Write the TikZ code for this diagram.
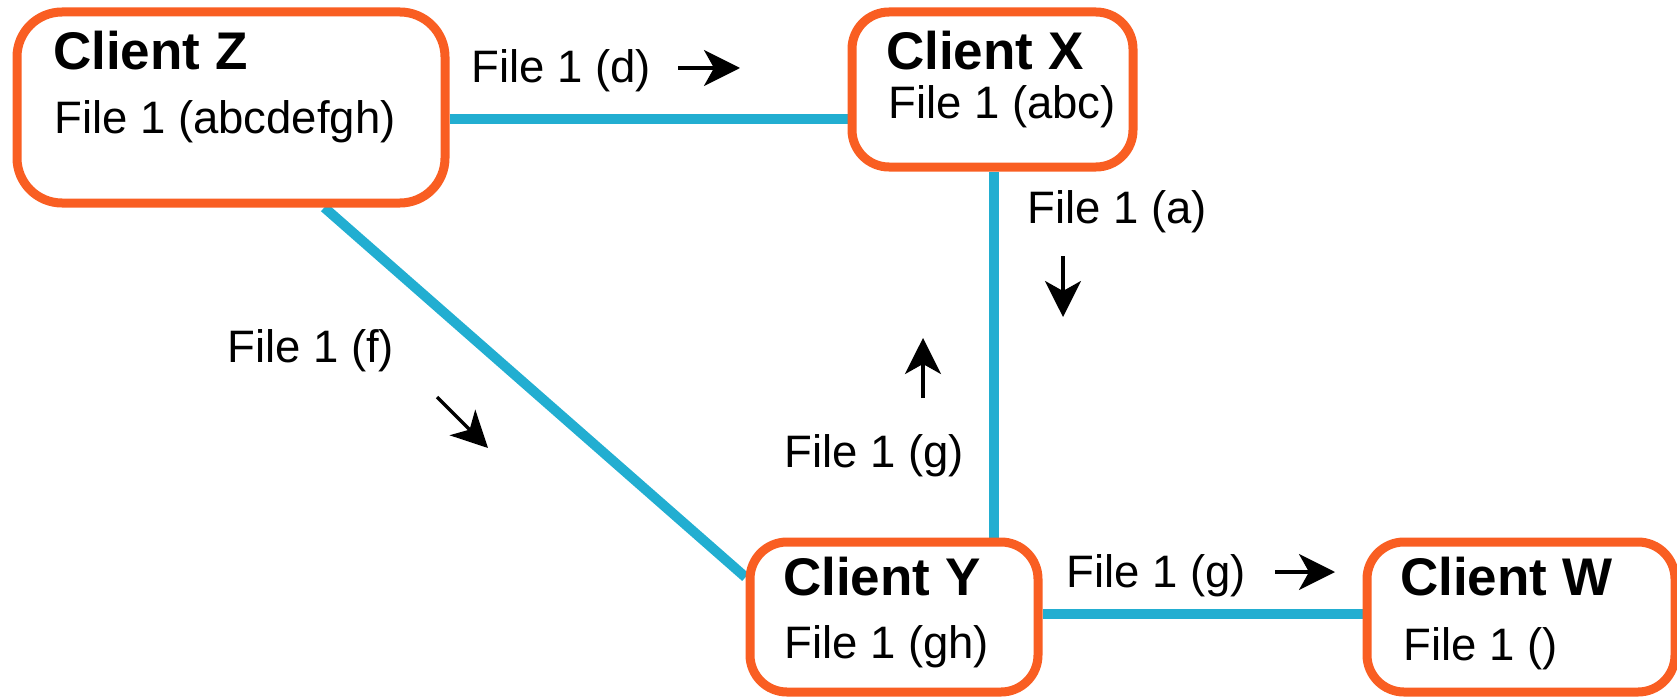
\documentclass[tikz,border=0pt]{standalone}
\usepackage{fontspec}
\setmainfont{Liberation Sans}
\usetikzlibrary{arrows.meta,backgrounds,calc}

\definecolor{boxorange}{RGB}{249,94,34}
\definecolor{linkblue}{RGB}{34,174,209}

\begin{document}
\begin{tikzpicture}[x = 1pt, y = -1pt,
    client/.style = {draw = boxorange, line width = 9pt, fill = white, rounded corners = 37pt, inner sep = 0pt},
    clientname/.style = {anchor = base west, inner sep = 0pt, font = \fontsize{53}{60}\selectfont\bfseries},
    filetext/.style = {anchor = base west, inner sep = 0pt, font = \fontsize{45.5}{54}\selectfont},
    link/.style = {draw = linkblue, line width = 10pt},
    dir/.style = {line width = 3.5pt, -{Stealth[length = 36pt, width = 36pt, inset = 10pt]}}]

    \useasboundingbox (0, 0) rectangle (1677, 698);

    % clients
    \node [client, rounded corners = 45pt, minimum width = 428pt, minimum height = 191pt] (cz) at (231, 107.5) {};
    \node [client, minimum width = 281pt, minimum height = 155pt] (cx) at (992.5, 89.5) {};
    \node [client, minimum width = 288pt, minimum height = 150pt] (cy) at (894, 617) {};
    \node [client, minimum width = 308pt, minimum height = 150pt] (cw) at (1521, 617) {};

    \node [clientname] (czname) at (53, 70) {Client Z};
    \node [filetext] (czfile) at (54, 133) {File 1 (abcdefgh)};
    \node [clientname] (cxname) at (886, 70) {Client X};
    \node [filetext] (cxfile) at (888, 118) {File 1 (abc)};
    \node [clientname] (cyname) at (783, 595) {Client Y};
    \node [filetext] (cyfile) at (784, 658) {File 1 (gh)};
    \node [clientname] (cwname) at (1400, 595) {Client W};
    \node [filetext] (cwfile) at (1403, 660) {File 1 ()};

    % links
    \begin{scope}[on background layer]
        \draw [link] ([yshift = -11.5pt]cz.east) -- ([yshift = -29.5pt]cx.west);
        \draw [link] ([xshift = 1.5pt]cx.south) -- ([xshift = 1.5pt]cx.south |- cy.north);
        \draw [link] (cz.-47) -- (cy.165);
        \draw [link] ([yshift = 3pt]cy.east) -- ([yshift = 3pt]cw.west);
    \end{scope}

    % transfers
    \node [filetext] (ld) at (471, 83) {File 1 (d)};
    \node [filetext] (la) at (1027, 223) {File 1 (a)};
    \node [filetext] (lf) at (227, 362) {File 1 (f)};
    \node [filetext] (lgy) at (784, 467) {File 1 (g)};
    \node [filetext] (lgw) at (1066, 587) {File 1 (g)};

    \draw [dir] ($(ld.base west) + (207, -15)$) -- ++(62, 0);
    \draw [dir] ($(la.base west) + (36, 33)$) -- ++(0, 61);
    \draw [dir] ($(lf.base west) + (210, 35)$) -- ++(51, 51);
    \draw [dir] ($(lgy.base west) + (139, -69)$) -- ++(0, -60);
    \draw [dir] ($(lgw.base west) + (209, -15)$) -- ++(60, 0);

\end{tikzpicture}
\end{document}
